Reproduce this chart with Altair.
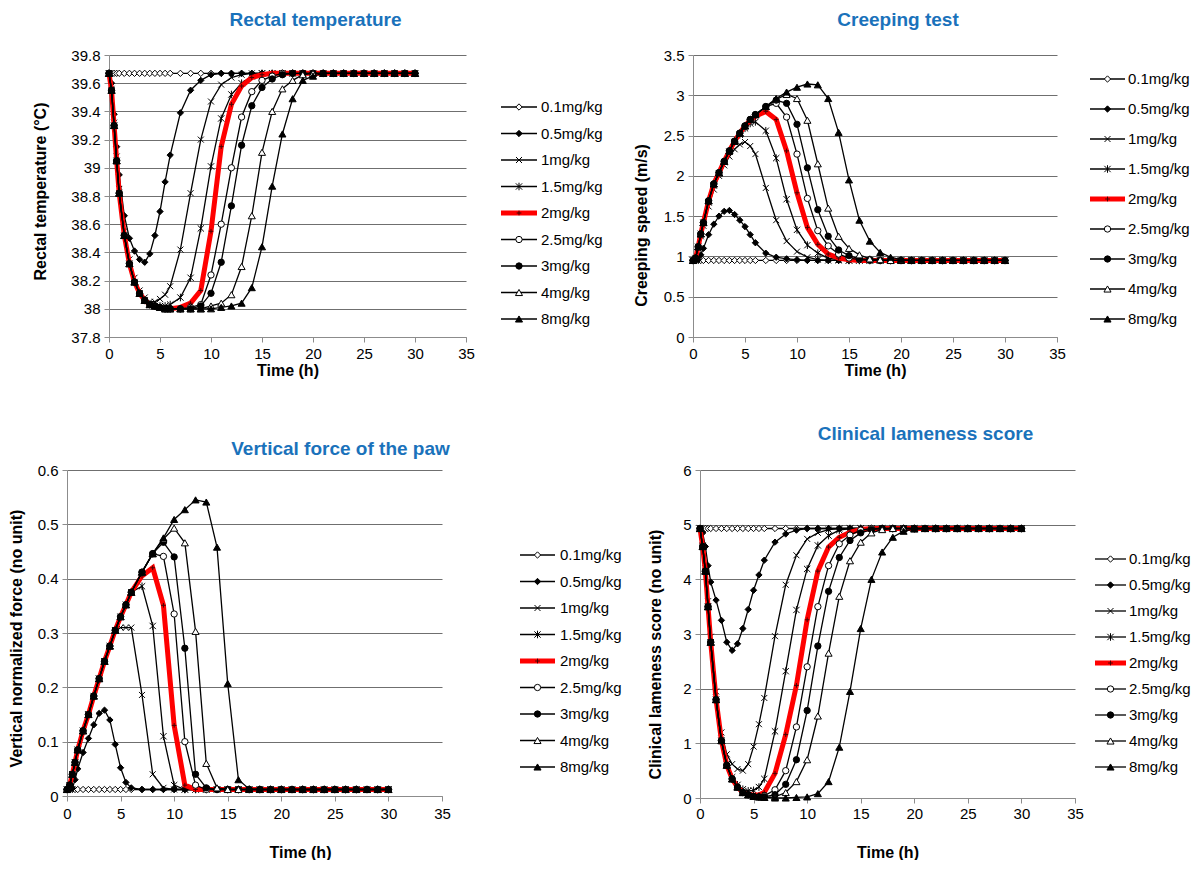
import altair as alt
import pandas as pd

# ---------------- data ----------------
T = [0, 0.25, 0.5, 0.75, 1, 1.5, 2, 2.5, 3, 3.5,
     4, 4.5, 5, 5.5, 6, 7, 8, 9, 10, 11,
     12, 13, 14, 15, 16, 17, 18, 19, 20, 21,
     22, 23, 24, 25, 26, 27, 28, 29, 30]

SERIES = ["0.1mg/kg", "0.5mg/kg", "1mg/kg", "1.5mg/kg", "2mg/kg",
          "2.5mg/kg", "3mg/kg", "4mg/kg", "8mg/kg"]

# Rectal temperature (deg C)
rt_01 = [39.67, 39.67, 39.67, 39.67, 39.67, 39.67, 39.67, 39.67, 39.67, 39.67,
         39.67, 39.67, 39.67, 39.67, 39.67, 39.67, 39.67, 39.67, 39.67, 39.67,
         39.67, 39.67, 39.67, 39.67, 39.67, 39.67, 39.67, 39.67, 39.67, 39.67,
         39.67, 39.67, 39.67, 39.67, 39.67, 39.67, 39.67, 39.67, 39.67]
rt_05 = [39.67, 39.6, 39.38, 39.15, 38.95, 38.66, 38.5, 38.41, 38.35, 38.33,
         38.39, 38.52, 38.69, 38.9, 39.09, 39.39, 39.55, 39.62, 39.66, 39.67,
         39.67, 39.67, 39.67, 39.67, 39.67, 39.67, 39.67, 39.67, 39.67, 39.67,
         39.67, 39.67, 39.67, 39.67, 39.67, 39.67, 39.67, 39.67, 39.67]
rt_1 = [39.67, 39.56, 39.32, 39.08, 38.85, 38.55, 38.35, 38.22, 38.13, 38.08,
        38.05, 38.05, 38.07, 38.1, 38.16, 38.42, 38.82, 39.2, 39.47, 39.59,
        39.64, 39.66, 39.67, 39.67, 39.67, 39.67, 39.67, 39.67, 39.67, 39.67,
        39.67, 39.67, 39.67, 39.67, 39.67, 39.67, 39.67, 39.67, 39.67]
rt_15 = [39.67, 39.55, 39.3, 39.05, 38.82, 38.52, 38.32, 38.19, 38.11, 38.06,
         38.03, 38.02, 38.02, 38.02, 38.03, 38.08, 38.22, 38.57, 39.01, 39.35,
         39.52, 39.6, 39.65, 39.67, 39.67, 39.67, 39.67, 39.67, 39.67, 39.67,
         39.67, 39.67, 39.67, 39.67, 39.67, 39.67, 39.67, 39.67, 39.67]
rt_2 = [39.67, 39.55, 39.3, 39.05, 38.82, 38.52, 38.32, 38.19, 38.11, 38.06,
        38.03, 38.02, 38.01, 38.0, 38.0, 38.01, 38.04, 38.13, 38.55, 39.15,
        39.45, 39.58, 39.64, 39.66, 39.67, 39.67, 39.67, 39.67, 39.67, 39.67,
        39.67, 39.67, 39.67, 39.67, 39.67, 39.67, 39.67, 39.67, 39.67]
rt_25 = [39.67, 39.55, 39.3, 39.05, 38.82, 38.52, 38.32, 38.19, 38.11, 38.06,
         38.03, 38.02, 38.01, 38.0, 38.0, 38.0, 38.01, 38.03, 38.24, 38.6,
         39.0, 39.36, 39.54, 39.62, 39.65, 39.67, 39.67, 39.67, 39.67, 39.67,
         39.67, 39.67, 39.67, 39.67, 39.67, 39.67, 39.67, 39.67, 39.67]
rt_3 = [39.67, 39.55, 39.3, 39.05, 38.82, 38.52, 38.32, 38.19, 38.11, 38.06,
        38.03, 38.02, 38.01, 38.0, 38.0, 38.0, 38.0, 38.02, 38.11, 38.33,
        38.73, 39.16, 39.44, 39.57, 39.63, 39.66, 39.67, 39.67, 39.67, 39.67,
        39.67, 39.67, 39.67, 39.67, 39.67, 39.67, 39.67, 39.67, 39.67]
rt_4 = [39.67, 39.55, 39.3, 39.05, 38.82, 38.52, 38.32, 38.19, 38.11, 38.06,
        38.03, 38.02, 38.01, 38.0, 38.0, 38.0, 38.0, 38.0, 38.02, 38.04,
        38.1, 38.3, 38.66, 39.11, 39.4, 39.56, 39.62, 39.66, 39.67, 39.67,
        39.67, 39.67, 39.67, 39.67, 39.67, 39.67, 39.67, 39.67, 39.67]
rt_8 = [39.67, 39.55, 39.3, 39.05, 38.82, 38.52, 38.32, 38.19, 38.11, 38.06,
        38.03, 38.02, 38.01, 38.0, 38.0, 38.0, 38.0, 38.0, 38.0, 38.01,
        38.02, 38.04, 38.15, 38.44, 38.87, 39.24, 39.49, 39.62, 39.65, 39.67,
        39.67, 39.67, 39.67, 39.67, 39.67, 39.67, 39.67, 39.67, 39.67]

# Creeping speed (m/s)
cs_01 = [0.95, 0.95, 0.95, 0.95, 0.95, 0.95, 0.95, 0.95, 0.95, 0.95,
         0.95, 0.95, 0.95, 0.95, 0.95, 0.95, 0.95, 0.95, 0.95, 0.95,
         0.95, 0.95, 0.95, 0.95, 0.95, 0.95, 0.95, 0.95, 0.95, 0.95,
         0.95, 0.95, 0.95, 0.95, 0.95, 0.95, 0.95, 0.95, 0.95]
cs_05 = [0.95, 0.95, 0.96, 1.02, 1.1, 1.27, 1.4, 1.5, 1.56, 1.57,
         1.52, 1.45, 1.37, 1.27, 1.17, 1.04, 0.99, 0.97, 0.96, 0.95,
         0.95, 0.95, 0.95, 0.95, 0.95, 0.95, 0.95, 0.95, 0.95, 0.95,
         0.95, 0.95, 0.95, 0.95, 0.95, 0.95, 0.95, 0.95, 0.95]
cs_1 = [0.95, 0.97, 1.1, 1.25, 1.38, 1.62, 1.83, 2.0, 2.13, 2.24,
        2.33, 2.39, 2.42, 2.37, 2.27, 1.85, 1.45, 1.19, 1.06, 0.99,
        0.96, 0.95, 0.95, 0.95, 0.95, 0.95, 0.95, 0.95, 0.95, 0.95,
        0.95, 0.95, 0.95, 0.95, 0.95, 0.95, 0.95, 0.95, 0.95]
cs_15 = [0.95, 0.98, 1.12, 1.28, 1.42, 1.67, 1.88, 2.03, 2.17, 2.3,
         2.42, 2.51, 2.59, 2.65, 2.67, 2.56, 2.22, 1.71, 1.33, 1.14,
         1.04, 0.98, 0.96, 0.95, 0.95, 0.95, 0.95, 0.95, 0.95, 0.95,
         0.95, 0.95, 0.95, 0.95, 0.95, 0.95, 0.95, 0.95, 0.95]
cs_2 = [0.95, 0.98, 1.12, 1.28, 1.42, 1.69, 1.9, 2.04, 2.18, 2.31,
        2.43, 2.53, 2.62, 2.69, 2.74, 2.8, 2.7, 2.31, 1.79, 1.36,
        1.15, 1.03, 0.98, 0.96, 0.95, 0.95, 0.95, 0.95, 0.95, 0.95,
        0.95, 0.95, 0.95, 0.95, 0.95, 0.95, 0.95, 0.95, 0.95]
cs_25 = [0.95, 0.98, 1.12, 1.28, 1.42, 1.69, 1.9, 2.04, 2.18, 2.31,
         2.43, 2.53, 2.62, 2.7, 2.76, 2.86, 2.9, 2.73, 2.27, 1.72,
         1.32, 1.13, 1.03, 0.98, 0.96, 0.95, 0.95, 0.95, 0.95, 0.95,
         0.95, 0.95, 0.95, 0.95, 0.95, 0.95, 0.95, 0.95, 0.95]
cs_3 = [0.95, 0.98, 1.12, 1.28, 1.42, 1.69, 1.9, 2.04, 2.18, 2.31,
        2.43, 2.53, 2.62, 2.7, 2.76, 2.86, 2.94, 2.9, 2.64, 2.1,
        1.58, 1.25, 1.08, 1.01, 0.97, 0.96, 0.95, 0.95, 0.95, 0.95,
        0.95, 0.95, 0.95, 0.95, 0.95, 0.95, 0.95, 0.95, 0.95]
cs_4 = [0.95, 0.98, 1.12, 1.28, 1.42, 1.69, 1.9, 2.04, 2.18, 2.31,
        2.43, 2.53, 2.62, 2.7, 2.76, 2.86, 2.95, 3.01, 2.96, 2.69,
        2.15, 1.6, 1.25, 1.1, 1.02, 0.97, 0.96, 0.95, 0.95, 0.95,
        0.95, 0.95, 0.95, 0.95, 0.95, 0.95, 0.95, 0.95, 0.95]
cs_8 = [0.95, 0.98, 1.12, 1.28, 1.42, 1.69, 1.9, 2.04, 2.18, 2.31,
        2.43, 2.53, 2.62, 2.7, 2.76, 2.86, 2.96, 3.04, 3.1, 3.14,
        3.13, 2.96, 2.54, 1.95, 1.45, 1.19, 1.05, 0.99, 0.96, 0.95,
        0.95, 0.95, 0.95, 0.95, 0.95, 0.95, 0.95, 0.95, 0.95]

# Vertical normalized force (no unit)
vf_01 = [0.012, 0.012, 0.012, 0.012, 0.012, 0.012, 0.012, 0.012, 0.012, 0.012,
         0.012, 0.012, 0.012, 0.012, 0.012, 0.012, 0.012, 0.012, 0.012, 0.012,
         0.012, 0.012, 0.012, 0.012, 0.012, 0.012, 0.012, 0.012, 0.012, 0.012,
         0.012, 0.012, 0.012, 0.012, 0.012, 0.012, 0.012, 0.012, 0.012]
vf_05 = [0.012, 0.012, 0.014, 0.03, 0.05, 0.08, 0.106, 0.131, 0.152, 0.158,
         0.14, 0.095, 0.052, 0.025, 0.015, 0.012, 0.012, 0.012, 0.012, 0.012,
         0.012, 0.012, 0.012, 0.012, 0.012, 0.012, 0.012, 0.012, 0.012, 0.012,
         0.012, 0.012, 0.012, 0.012, 0.012, 0.012, 0.012, 0.012, 0.012]
vf_1 = [0.012, 0.02, 0.04, 0.062, 0.085, 0.12, 0.15, 0.184, 0.216, 0.248,
        0.276, 0.305, 0.31, 0.31, 0.31, 0.186, 0.04, 0.015, 0.012, 0.012,
        0.012, 0.012, 0.012, 0.012, 0.012, 0.012, 0.012, 0.012, 0.012, 0.012,
        0.012, 0.012, 0.012, 0.012, 0.012, 0.012, 0.012, 0.012, 0.012]
vf_15 = [0.012, 0.02, 0.04, 0.062, 0.085, 0.12, 0.15, 0.184, 0.216, 0.248,
         0.276, 0.305, 0.33, 0.352, 0.375, 0.386, 0.313, 0.11, 0.02, 0.012,
         0.012, 0.012, 0.012, 0.012, 0.012, 0.012, 0.012, 0.012, 0.012, 0.012,
         0.012, 0.012, 0.012, 0.012, 0.012, 0.012, 0.012, 0.012, 0.012]
vf_2 = [0.012, 0.02, 0.04, 0.062, 0.085, 0.12, 0.15, 0.184, 0.216, 0.248,
        0.276, 0.305, 0.33, 0.352, 0.375, 0.405, 0.42, 0.351, 0.13, 0.02,
        0.012, 0.012, 0.012, 0.012, 0.012, 0.012, 0.012, 0.012, 0.012, 0.012,
        0.012, 0.012, 0.012, 0.012, 0.012, 0.012, 0.012, 0.012, 0.012]
vf_25 = [0.012, 0.02, 0.04, 0.062, 0.085, 0.12, 0.15, 0.184, 0.216, 0.248,
         0.276, 0.305, 0.33, 0.352, 0.375, 0.412, 0.446, 0.441, 0.335, 0.1,
         0.02, 0.012, 0.012, 0.012, 0.012, 0.012, 0.012, 0.012, 0.012, 0.012,
         0.012, 0.012, 0.012, 0.012, 0.012, 0.012, 0.012, 0.012, 0.012]
vf_3 = [0.012, 0.02, 0.04, 0.062, 0.085, 0.12, 0.15, 0.184, 0.216, 0.248,
        0.276, 0.305, 0.33, 0.352, 0.375, 0.412, 0.446, 0.467, 0.44, 0.272,
        0.04, 0.015, 0.012, 0.012, 0.012, 0.012, 0.012, 0.012, 0.012, 0.012,
        0.012, 0.012, 0.012, 0.012, 0.012, 0.012, 0.012, 0.012, 0.012]
vf_4 = [0.012, 0.02, 0.04, 0.062, 0.085, 0.12, 0.15, 0.184, 0.216, 0.248,
        0.276, 0.305, 0.33, 0.352, 0.375, 0.412, 0.446, 0.473, 0.493, 0.466,
        0.303, 0.06, 0.015, 0.012, 0.012, 0.012, 0.012, 0.012, 0.012, 0.012,
        0.012, 0.012, 0.012, 0.012, 0.012, 0.012, 0.012, 0.012, 0.012]
vf_8 = [0.012, 0.02, 0.04, 0.062, 0.085, 0.12, 0.15, 0.184, 0.216, 0.248,
        0.276, 0.305, 0.33, 0.352, 0.375, 0.412, 0.446, 0.475, 0.509, 0.527,
        0.545, 0.541, 0.458, 0.207, 0.03, 0.013, 0.012, 0.012, 0.012, 0.012,
        0.012, 0.012, 0.012, 0.012, 0.012, 0.012, 0.012, 0.012, 0.012]

# Clinical lameness score (no unit)
ls_01 = [4.93, 4.93, 4.93, 4.93, 4.93, 4.93, 4.93, 4.93, 4.93, 4.93,
         4.93, 4.93, 4.93, 4.93, 4.93, 4.93, 4.93, 4.93, 4.93, 4.93,
         4.93, 4.93, 4.93, 4.93, 4.93, 4.93, 4.93, 4.93, 4.93, 4.93,
         4.93, 4.93, 4.93, 4.93, 4.93, 4.93, 4.93, 4.93, 4.93]
ls_05 = [4.93, 4.85, 4.6, 4.25, 3.95, 3.62, 3.25, 2.85, 2.7, 2.82,
         3.1, 3.45, 3.8, 4.08, 4.35, 4.68, 4.83, 4.9, 4.93, 4.93,
         4.93, 4.93, 4.93, 4.93, 4.93, 4.93, 4.93, 4.93, 4.93, 4.93,
         4.93, 4.93, 4.93, 4.93, 4.93, 4.93, 4.93, 4.93, 4.93]
ls_1 = [4.93, 4.62, 4.2, 3.6, 2.95, 1.95, 1.2, 0.8, 0.62, 0.53,
        0.5, 0.62, 0.94, 1.35, 1.83, 2.96, 3.9, 4.44, 4.74, 4.85,
        4.91, 4.93, 4.93, 4.93, 4.93, 4.93, 4.93, 4.93, 4.93, 4.93,
        4.93, 4.93, 4.93, 4.93, 4.93, 4.93, 4.93, 4.93, 4.93]
ls_15 = [4.93, 4.6, 4.15, 3.5, 2.85, 1.8, 1.05, 0.62, 0.38, 0.24,
         0.16, 0.13, 0.14, 0.2, 0.35, 1.22, 2.32, 3.44, 4.19, 4.62,
         4.8, 4.9, 4.93, 4.93, 4.93, 4.93, 4.93, 4.93, 4.93, 4.93,
         4.93, 4.93, 4.93, 4.93, 4.93, 4.93, 4.93, 4.93, 4.93]
ls_2 = [4.93, 4.6, 4.15, 3.5, 2.85, 1.8, 1.05, 0.6, 0.35, 0.2,
        0.1, 0.07, 0.05, 0.06, 0.1, 0.45, 1.16, 2.06, 3.26, 4.15,
        4.59, 4.77, 4.86, 4.91, 4.93, 4.93, 4.93, 4.93, 4.93, 4.93,
        4.93, 4.93, 4.93, 4.93, 4.93, 4.93, 4.93, 4.93, 4.93]
ls_25 = [4.93, 4.6, 4.15, 3.5, 2.85, 1.8, 1.05, 0.6, 0.35, 0.2,
         0.1, 0.06, 0.03, 0.02, 0.04, 0.15, 0.5, 1.3, 2.4, 3.5,
         4.25, 4.65, 4.81, 4.9, 4.93, 4.93, 4.93, 4.93, 4.93, 4.93,
         4.93, 4.93, 4.93, 4.93, 4.93, 4.93, 4.93, 4.93, 4.93]
ls_3 = [4.93, 4.6, 4.15, 3.5, 2.85, 1.8, 1.05, 0.6, 0.35, 0.2,
        0.1, 0.06, 0.03, 0.02, 0.02, 0.06, 0.25, 0.7, 1.6, 2.78,
        3.78, 4.4, 4.71, 4.85, 4.91, 4.93, 4.93, 4.93, 4.93, 4.93,
        4.93, 4.93, 4.93, 4.93, 4.93, 4.93, 4.93, 4.93, 4.93]
ls_4 = [4.93, 4.6, 4.15, 3.5, 2.85, 1.8, 1.05, 0.6, 0.35, 0.2,
        0.1, 0.06, 0.03, 0.02, 0.01, 0.02, 0.1, 0.3, 0.7, 1.5,
        2.65, 3.69, 4.34, 4.68, 4.85, 4.91, 4.93, 4.93, 4.93, 4.93,
        4.93, 4.93, 4.93, 4.93, 4.93, 4.93, 4.93, 4.93, 4.93]
ls_8 = [4.93, 4.6, 4.15, 3.5, 2.85, 1.8, 1.05, 0.6, 0.35, 0.2,
        0.1, 0.06, 0.03, 0.02, 0.01, 0.0, 0.0, 0.01, 0.02, 0.08,
        0.3, 0.93, 1.95, 3.1, 4.0, 4.5, 4.77, 4.88, 4.92, 4.93,
        4.93, 4.93, 4.93, 4.93, 4.93, 4.93, 4.93, 4.93, 4.93]

XTICKS = [0, 5, 10, 15, 20, 25, 30, 35]
RT_TICKS = [37.8, 38, 38.2, 38.4, 38.6, 38.8, 39, 39.2, 39.4, 39.6, 39.8]
CS_TICKS = [0, 0.5, 1, 1.5, 2, 2.5, 3, 3.5]
VF_TICKS = [0, 0.1, 0.2, 0.3, 0.4, 0.5, 0.6]
LS_TICKS = [0, 1, 2, 3, 4, 5, 6]

# ---------------- styles ----------------
FONT = "Liberation Sans"
BLUE = "#1a72bb"
AXC = "#8c8c8c"
GRIDC = "#6f6f6f"
XPATH = "M-1,-1L1,1M-1,1L1,-1"
STAR = "M-1,-1L1,1M-1,1L1,-1M0,-1.2L0,1.2"
PLUS = "M-1,0L1,0M0,-1L0,1"
SHAPES = ["diamond", "diamond", XPATH, STAR, PLUS, "circle", "circle",
          "triangle-up", "triangle-up"]
FILLS = ["white", "black", None, None, None, "white", "black", "white", "black"]
SIZES = [40, 40, 36, 40, 22, 40, 40, 50, 50]
LINE_COLORS = ["black", "black", "black", "black", "#ff0000",
               "black", "black", "black", "black"]
LINE_WIDTHS = [1.3, 1.3, 1.3, 1.3, 5, 1.3, 1.3, 1.3, 1.3]
MARK_COLORS = ["black", "black", "black", "black", "#4a0000",
               "black", "black", "black", "black"]


def point_mark(i):
    if FILLS[i] is not None:
        return dict(shape=SHAPES[i], size=SIZES[i], filled=True, fill=FILLS[i],
                    stroke=MARK_COLORS[i], strokeWidth=1, opacity=1)
    return dict(shape=SHAPES[i], size=SIZES[i], filled=False,
                color=MARK_COLORS[i], strokeWidth=1, opacity=1)


def panel(title, vals, ydom, yticks, ytitle, w, h, title_dx, title_off,
          ytitle_x, ytitle_y, xlab_pad, xtitle_y, xtitle_x=None):
    xkw = dict(values=XTICKS, format="d", grid=False, domainColor=AXC,
               tickColor=AXC, tickSize=5, labelFontSize=15, labelFont=FONT,
               labelColor="black", labelPadding=xlab_pad, labelFlush=False,
               labelOverlap=False, title="Time (h)", titleFont=FONT,
               titleFontSize=16, titleFontWeight="bold", titleColor="black",
               titleY=xtitle_y, titleBaseline="middle")
    if xtitle_x is not None:
        xkw["titleX"] = xtitle_x
    xaxis = alt.Axis(**xkw)
    yaxis = alt.Axis(values=yticks, format=".1~f", grid=True, gridColor=GRIDC,
                     gridWidth=1, domainColor=AXC, tickColor=AXC, tickSize=5,
                     labelFontSize=15, labelFont=FONT, labelColor="black",
                     labelPadding=4, labelFlush=False, labelOverlap=False,
                     title=ytitle, titleFont=FONT, titleFontSize=16,
                     titleFontWeight="bold", titleColor="black",
                     titleX=ytitle_x, titleY=ytitle_y, titleBaseline="middle")
    xs = alt.Scale(domain=[0, 35], nice=False)
    ys = alt.Scale(domain=ydom, nice=False, zero=False)
    layers = []
    for i, name in enumerate(SERIES):
        df = pd.DataFrame({"t": T, "v": vals[i], "s": name})
        base = alt.Chart(df).encode(
            x=alt.X("t:Q", scale=xs, axis=xaxis),
            y=alt.Y("v:Q", scale=ys, axis=yaxis),
        )
        layers.append(base.mark_line(color=LINE_COLORS[i],
                                     strokeWidth=LINE_WIDTHS[i]))
        layers.append(base.mark_point(**point_mark(i)))
    return alt.layer(*layers).properties(
        width=w, height=h,
        title=alt.TitleParams(text=title, font=FONT, fontSize=19,
                              fontWeight="bold", color=BLUE, anchor="middle",
                              frame="group", dx=title_dx, offset=title_off),
    )


def legend(w, h, x0, x1, xt, y0, dy):
    layers = []
    ys = alt.Scale(domain=[0, 8], range=[y0, y0 + 8 * dy])
    for i, name in enumerate(SERIES):
        df = pd.DataFrame({"r": [i], "lbl": [name]})
        Y = alt.Y("r:Q", scale=ys, axis=None)
        base = alt.Chart(df)
        layers.append(base.mark_rule(color=LINE_COLORS[i],
                                     strokeWidth=LINE_WIDTHS[i]).encode(
            x=alt.value(x0), x2=alt.value(x1), y=Y))
        layers.append(base.mark_point(**point_mark(i)).encode(
            x=alt.value((x0 + x1) / 2), y=Y))
        layers.append(base.mark_text(align="left", baseline="middle",
                                     font=FONT, fontSize=15,
                                     color="black").encode(
            x=alt.value(xt), y=Y, text="lbl:N"))
    return alt.layer(*layers).properties(width=w, height=h)


def spacer(w, h):
    return alt.Chart(pd.DataFrame({"a": [0]})).mark_point(opacity=0).encode(
        x=alt.value(0), y=alt.value(0)).properties(width=w, height=h)


H1 = 282
p1 = panel("Rectal temperature",
           [rt_01, rt_05, rt_1, rt_15, rt_2, rt_25, rt_3, rt_4, rt_8],
           [37.8, 39.8], RT_TICKS, "Rectal temperature (°C)",
           357, H1, 28, 18, -69, 136, 4, 33)
p2 = panel("Creeping test",
           [cs_01, cs_05, cs_1, cs_15, cs_2, cs_25, cs_3, cs_4, cs_8],
           [0, 3.5], CS_TICKS, "Creeping speed (m/s)",
           364, H1, 23, 18, -52, 170, 4, 33)
p3 = panel("Vertical force of the paw",
           [vf_01, vf_05, vf_1, vf_15, vf_2, vf_25, vf_3, vf_4, vf_8],
           [0, 0.6], VF_TICKS, "Vertical normalized force (no unit)",
           375, 326, 86, 4, -51, 168, 5, 56, 233)
p4 = panel("Clinical lameness score",
           [ls_01, ls_05, ls_1, ls_15, ls_2, ls_25, ls_3, ls_4, ls_8],
           [0, 6], LS_TICKS, "Clinical lameness score (no unit)",
           375, 328, 38, 19, -45, 184, 3, 54)

l1 = legend(227, H1, 35, 71, 75, 52, 26.5)
l2 = legend(128, H1, 33, 68, 71, 24, 30)
l3 = legend(258, 326, 78, 113, 118, 85, 26.5)
l4 = legend(110, 328, 20, 51, 54, 89, 26)

row1 = alt.hconcat(spacer(42, H1), p1, l1, p2, l2, spacing=0, bounds="flush")
row2 = alt.hconcat(p3, l3, p4, l4, spacing=0, bounds="flush")

chart = alt.vconcat(row1, row2, spacing=47).configure_view(
    stroke=None).properties(
    padding={"left": 0, "top": 3, "right": 0, "bottom": 0})

chart.save("out.html", embed_options={"renderer": "svg", "actions": False})
